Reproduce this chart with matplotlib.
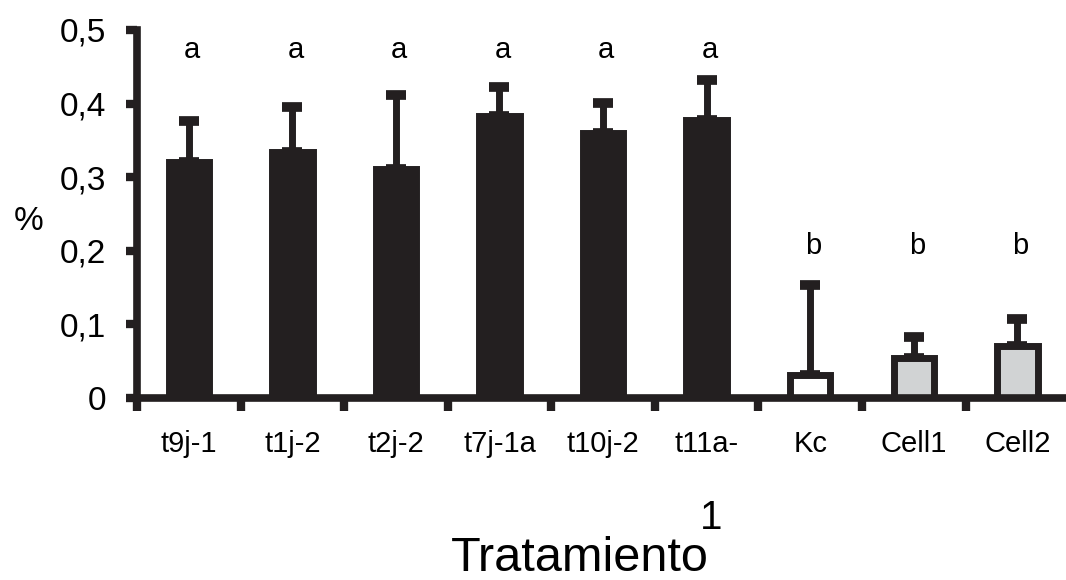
import matplotlib
matplotlib.use("Agg")
import matplotlib.pyplot as plt
import numpy as np

plt.rcParams['font.family'] = ['Liberation Sans', 'DejaVu Sans']

categories = ['t9j-1', 't1j-2', 't2j-2', 't7j-1a', 't10j-2', 't11a-', 'Kc', 'Cell1', 'Cell2']
means = [0.320, 0.334, 0.311, 0.383, 0.360, 0.378, 0.031, 0.055, 0.070]
err_top = [0.377, 0.396, 0.412, 0.423, 0.401, 0.432, 0.153, 0.083, 0.107]
letters = ['a', 'a', 'a', 'a', 'a', 'a', 'b', 'b', 'b']
fills = ['#231f20'] * 6 + ['#ffffff', '#d1d3d4', '#d1d3d4']
yticks = [0, 0.1, 0.2, 0.3, 0.4, 0.5]
ytick_labels = ['0', '0,1', '0,2', '0,3', '0,4', '0,5']

DARK = '#231f20'
W, H = 1066, 580
fig = plt.figure(figsize=(W / 100, H / 100), dpi=100)
ax = fig.add_axes([137 / W, 1 - 398 / H, 1 - 137 / W, 368 / H])

x = np.arange(len(categories))
errs = np.array(err_top) - np.array(means)
ax.bar(x, means, width=0.39, color=fills, edgecolor=DARK, linewidth=5, zorder=2)
ax.errorbar(x, means, yerr=[np.zeros_like(errs), errs], fmt='none', ecolor=DARK,
            elinewidth=5, capsize=7, capthick=7, zorder=1)

for xi, lab in zip(x, letters):
    yy = 0.473 if lab == 'a' else 0.207
    ax.text(xi + 0.03, yy, lab, ha='center', va='center', fontsize=21, color='black')

ax.set_xlim(-0.5, 8.47)
ax.set_ylim(0, 0.5)

for s in ['top', 'right']:
    ax.spines[s].set_visible(False)
for s in ['left', 'bottom']:
    ax.spines[s].set_linewidth(5.5)
    ax.spines[s].set_color(DARK)
    ax.spines[s].set_zorder(3)

ax.set_yticks(yticks)
ax.set_yticklabels(ytick_labels, fontsize=24)
ax.tick_params(axis='y', direction='out', length=8, width=6, color=DARK, pad=14)

ax.set_xticks(np.arange(-0.5, 8.0, 1.0))
ax.set_xticklabels([])
ax.tick_params(axis='x', which='major', direction='out', length=9, width=6, color=DARK)
ax.set_xticks(x, minor=True)
ax.set_xticklabels(categories, minor=True, fontsize=21)
ax.tick_params(axis='x', which='minor', length=0, pad=23)

fig.text(29 / W, 1 - 222 / H, '%', ha='center', va='center', fontsize=24)
fig.text(580 / W, 1 - 571 / H, 'Tratamiento', ha='center', va='baseline', fontsize=35)
fig.text(711 / W, 1 - 529 / H, '1', ha='center', va='baseline', fontsize=29)

fig.savefig('out.png', dpi=100)
